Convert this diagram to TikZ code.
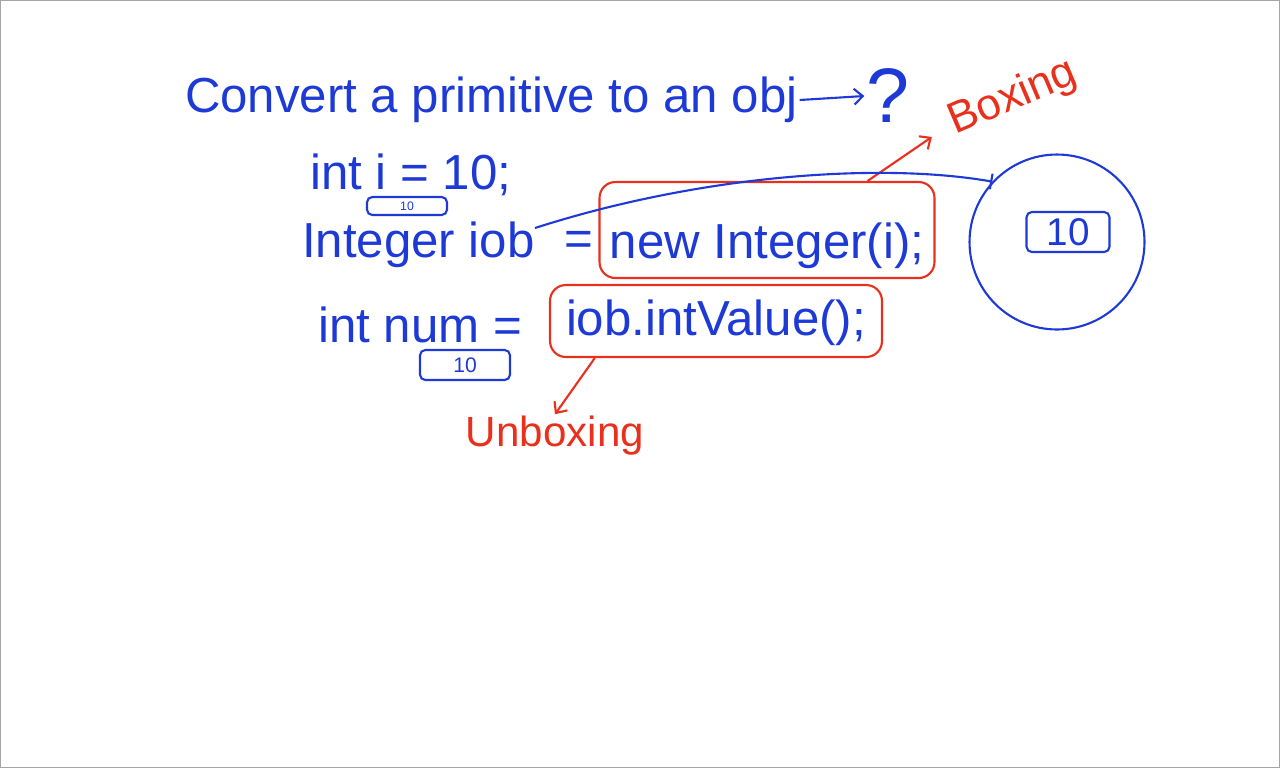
\documentclass[tikz,border=0pt]{standalone}
\usepackage{fontspec}
\setmainfont{Liberation Sans}
\usetikzlibrary{positioning,arrows.meta}
\definecolor{inkblue}{RGB}{30,58,214}
\definecolor{inkred}{RGB}{232,48,28}
\tikzset{>={Straight Barb[length=5pt,width=9pt]}}
\tikzset{
  ink/.style={text=inkblue, inner sep=1pt, font=\fontsize{28}{32}\selectfont},
  redink/.style={text=inkred, inner sep=1pt, font=\fontsize{25}{30}\selectfont},
  valbox/.style={draw=inkblue, line width=1.2pt, rounded corners=3pt, text=inkblue, inner sep=0pt},
  callout/.style={draw=inkred, line width=1.2pt, rounded corners=9pt, inner sep=1pt},
  pen/.style={line width=1.2pt}
}

\begin{document}
\begin{tikzpicture}[x=0.02cm,y=-0.02cm]
  \useasboundingbox (0,0) rectangle (1280,768);
  \draw[gray!70, line width=0.8pt] (0.5,0.5) rectangle (1279.5,767.5);
  % question at the top
  \node[ink, anchor=west] (title) at (183,100) {Convert a primitive to an obj};
  \node[ink, font=\fontsize{44}{48}\selectfont] (query) at (888,96) {?};
  \draw[->, pen, inkblue] (title.east) -- (query.west);
  \node[redink, rotate=23] (boxing) at (1013,98) {Boxing};
  % int i = 10;
  \node[ink, anchor=west] (decl) at (308,175) {int i = 10;};
  \node[valbox, minimum width=1.6cm, minimum height=0.36cm, font=\scriptsize] (ival) at (407,206) {10};
  % Integer iob = new Integer(i);
  \node[ink, anchor=west] (iob) at (300,245) {Integer iob};
  \node[ink, anchor=west] (eqa) at (562,243) {=};
  \node[ink, callout, minimum width=6.7cm, text height=1.485cm, text depth=0.365cm] (newint) at (767,230) {new Integer(i);};
  \draw[->, pen, inkred, shorten >=12pt] (newint.26) -- (boxing.west);
  % the object on the heap
  \node[draw=inkblue, pen, circle, minimum size=3.5cm] (heap) at (1057,242) {};
  \node[valbox, minimum width=1.66cm, minimum height=0.8cm, font=\fontsize{22}{24}\selectfont] (hval) at (1068,232) {10};
  \coordinate (iobtail) at (535,228);
  \draw[-{Bar[width=9pt]}, pen, inkblue] (iobtail) .. controls (700,175) and (880,162) .. (heap.137);
  % int num = iob.intValue();
  \node[ink, anchor=west] (num) at (316,325) {int num =};
  \node[ink, callout, minimum width=6.64cm, text height=0.965cm, text depth=0.405cm] (numcall) at (716,321) {iob.intValue();};
  \node[valbox, minimum width=1.8cm, minimum height=0.6cm, font=\large] (numval) at (465,365) {10};
  \node[redink, font=\fontsize{24}{28}\selectfont] (unbox) at (555,436) {Unboxing};
  \draw[->, pen, inkred] (numcall.197) -- (unbox.north);
\end{tikzpicture}
\end{document}
